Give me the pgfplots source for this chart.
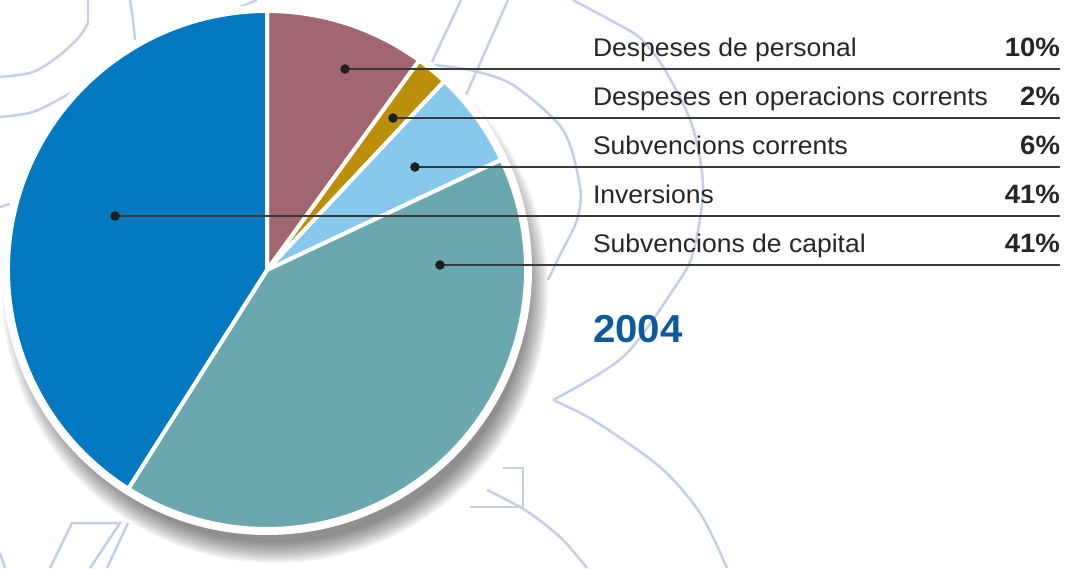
\documentclass[border=0pt]{standalone}
\usepackage{pgfplots}
\pgfplotsset{compat=1.18}
\usepackage{fontspec}
\setmainfont{Liberation Sans}
\newfontfamily\lblfont[FakeStretch=1.04]{Liberation Sans}
\newfontfamily\yrfont[FakeStretch=1.03]{Liberation Sans}
\definecolor{cmauve}{HTML}{A26670}
\definecolor{cgold}{HTML}{BB8F0A}
\definecolor{clblue}{HTML}{88C8EC}
\definecolor{cteal}{HTML}{6AA7AF}
\definecolor{cblue}{HTML}{0079C1}
\definecolor{cdeco}{HTML}{C5CFE6}
\definecolor{ctext}{HTML}{262626}
\definecolor{cyear}{HTML}{0B5A9E}
\definecolor{cline}{HTML}{3A3A3A}
\newcommand\sector[3]{\fill[#1, draw=white, line width=4pt, line join=round] (axis cs:267,298) -- ++(#2:259pt) arc[start angle=#2, end angle=#3, radius=259pt] -- cycle;}
% shares (percent), in pie order clockwise from the top
\def\vPers{10}\def\vOper{2}\def\vSubC{6}\def\vCap{41}\def\vInv{41}
\pgfmathsetmacro\aA{90}
\pgfmathsetmacro\aB{\aA-3.6*\vPers}
\pgfmathsetmacro\aC{\aB-3.6*\vOper}
\pgfmathsetmacro\aD{\aC-3.6*\vSubC}
\pgfmathsetmacro\aE{\aD-3.6*\vCap}
\pgfmathsetmacro\aF{\aE-3.6*\vInv}
\tikzset{lbl/.style={inner sep=0pt, outer sep=0pt, text=ctext}}
\def\lf{\lblfont\fontsize{25.5}{30}\selectfont}
\def\pf{\lblfont\bfseries\fontsize{26.5}{30}\selectfont}
\begin{document}%
\begin{tikzpicture}
\begin{axis}[scale only axis, width=1065pt, height=568pt,
  xmin=0, xmax=1065, ymin=0, ymax=568, hide axis, clip=true]
% decorative background curves
\pgfplotsset{deco/.style={cdeco, line width=2.5pt, forget plot}}
\addplot[deco, smooth] coordinates {(0,491)(33,496)(60,513)(80,532)(88,545)};
\addplot[deco] coordinates {(88,545)(88,568)};
\addplot[deco, smooth] coordinates {(0,451)(33,456)(67,473)(78,480)};
\addplot[deco, smooth] coordinates {(130,568)(133,548)(135,528)};
\addplot[deco] coordinates {(240,561)(257,568)};
\addplot[deco] coordinates {(0,361)(10,364)};
\addplot[deco] coordinates {(461,568)(432,506)};
\addplot[deco] coordinates {(508,568)(466,473)};
\addplot[deco, smooth] coordinates {(433,503)(470,498)(513,483)(563,438)(580,381)(577,348)(560,313)(548,288)};
\addplot[deco, smooth] coordinates {(573,568)(610,548)(640,530)(665,498)(692,443)(703,381)(693,315)(673,278)(623,211)(553,168)};
\addplot[deco, smooth] coordinates {(553,168)(593,148)(660,101)(700,55)(727,0)};
\addplot[deco] coordinates {(470,61)(523,61)(523,100)(503,100)};
\addplot[deco, smooth] coordinates {(487,78)(525,58)(560,31)(587,0)};
\addplot[deco] coordinates {(50,0)(72,45)(120,45)(90,0)};
\addplot[deco] coordinates {(128,45)(107,0)};
\addplot[deco] coordinates {(0,15)(5,0)};
% shadow
\pgfplotsinvokeforeach{0,...,10}{\fill[black,opacity=0.05] (axis cs:275,278) circle[radius={(273-2*#1)*1pt}];}
% white rim
\fill[white] (axis cs:267,298) circle[radius=265pt];
% sectors
\sector{cmauve}{\aA}{\aB}
\sector{cgold}{\aB}{\aC}
\sector{clblue}{\aC}{\aD}
\sector{cteal}{\aD}{\aE}
\sector{cblue}{\aE}{\aF}
% leader lines
\pgfplotsset{lead/.style={cline, line width=2pt, forget plot}}
\addplot[lead] coordinates {(345,499)(1060,499)};
\addplot[lead] coordinates {(393,450)(1060,450)};
\addplot[lead] coordinates {(415,401)(1060,401)};
\addplot[lead] coordinates {(115,352)(1060,352)};
\addplot[lead] coordinates {(440,303)(1060,303)};
\addplot[only marks, mark=*, mark size=4.5pt, color=black!88, forget plot] coordinates {(345,499)(393,450)(415,401)(115,352)(440,303)};
% labels
\node[lbl, anchor=base west, font=\lf] at (axis cs:593,511) {Despeses de personal};
\node[lbl, anchor=base west, font=\lf] at (axis cs:593,462) {Despeses en operacions corrents};
\node[lbl, anchor=base west, font=\lf] at (axis cs:593,413) {Subvencions corrents};
\node[lbl, anchor=base west, font=\lf] at (axis cs:593,364) {Inversions};
\node[lbl, anchor=base west, font=\lf] at (axis cs:593,315) {Subvencions de capital};
\node[lbl, anchor=base east, font=\pf] at (axis cs:1060,511) {\vPers\%};
\node[lbl, anchor=base east, font=\pf] at (axis cs:1060,462) {\vOper\%};
\node[lbl, anchor=base east, font=\pf] at (axis cs:1060,413) {\vSubC\%};
\node[lbl, anchor=base east, font=\pf] at (axis cs:1060,364) {\vInv\%};
\node[lbl, anchor=base east, font=\pf] at (axis cs:1060,315) {\vCap\%};
\node[lbl, anchor=base west, text=cyear, font=\yrfont\bfseries\fontsize{39}{44}\selectfont] at (axis cs:593,225) {2004};
\end{axis}
\pgfresetboundingbox
\path (current axis.south west) rectangle (current axis.north east);
\end{tikzpicture}%
\end{document}
